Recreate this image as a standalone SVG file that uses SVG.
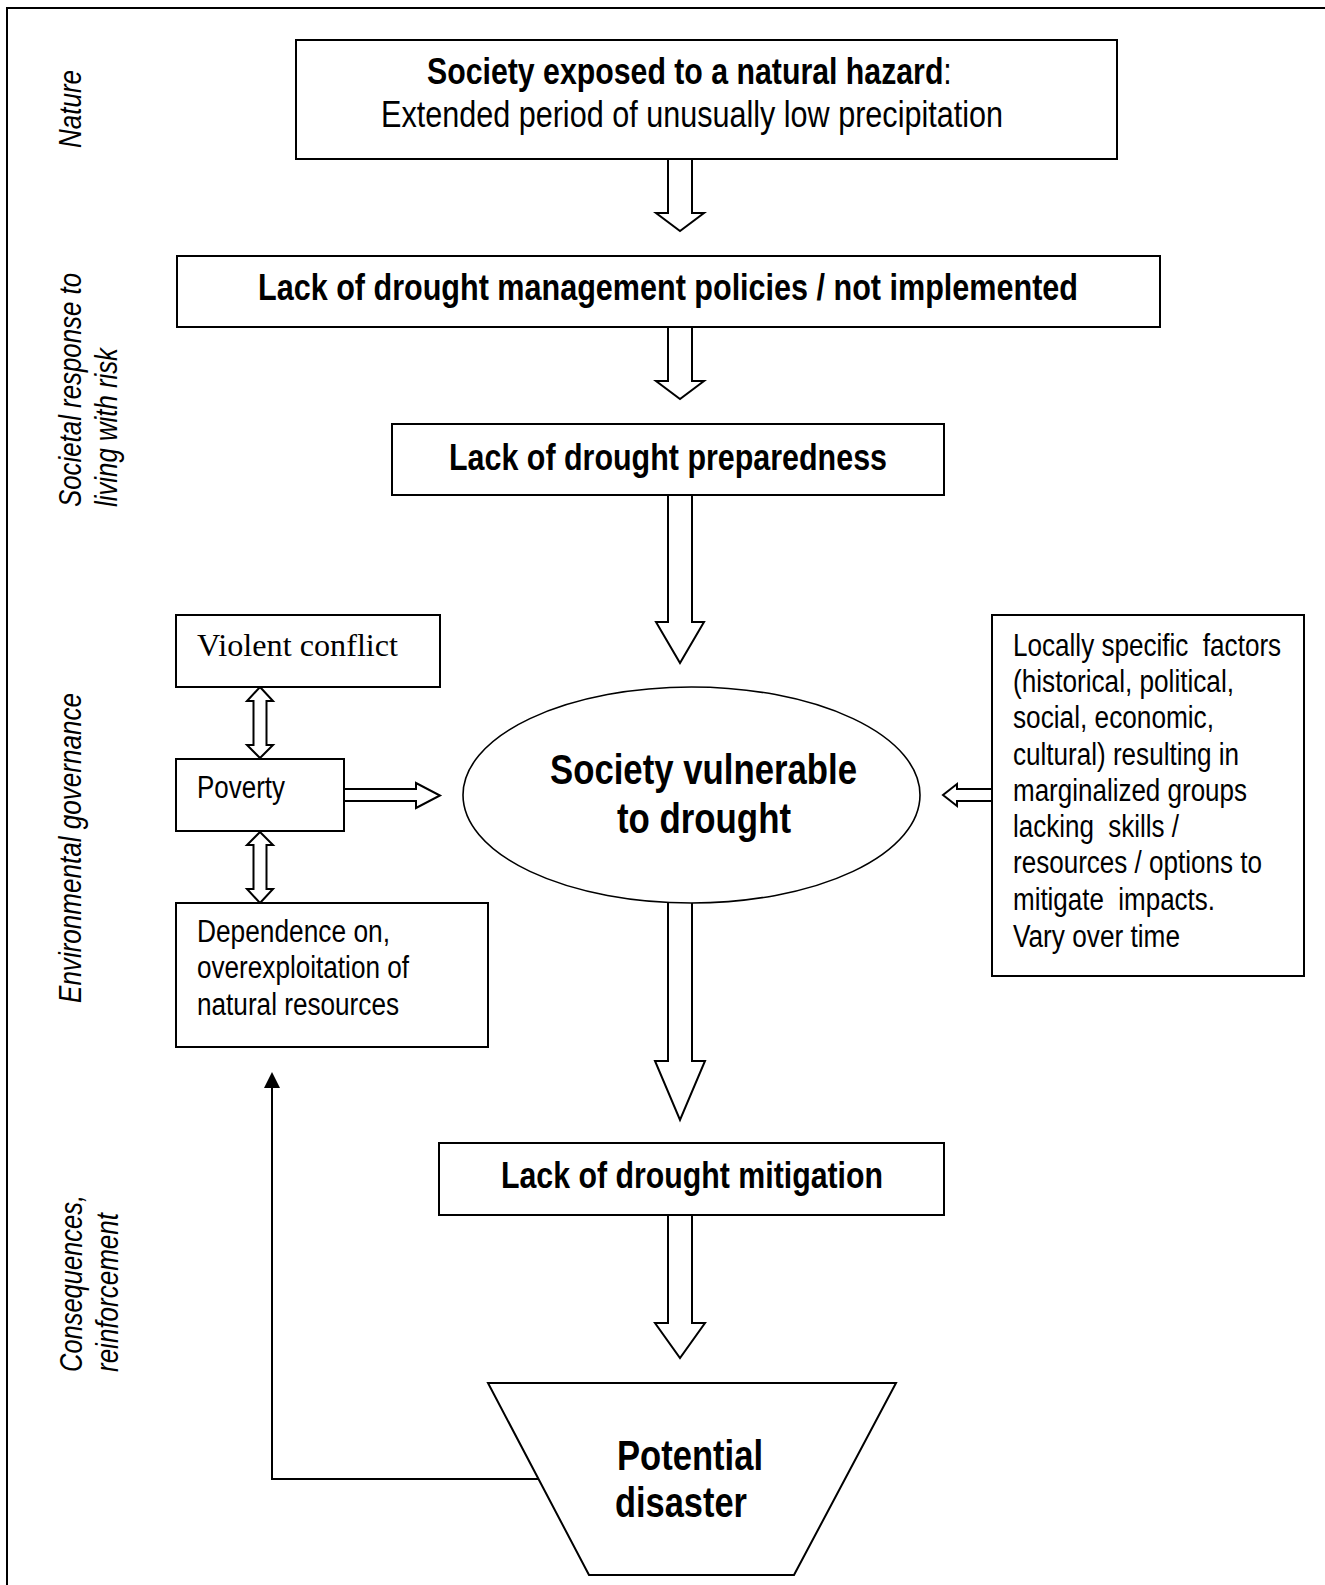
<svg xmlns="http://www.w3.org/2000/svg" width="1325" height="1585" viewBox="0 0 1325 1585">
<style>
  .box{fill:#fff;stroke:#000;stroke-width:2}
  .blk{fill:#fff;stroke:#000;stroke-width:2;stroke-linejoin:miter}
  .n{font-family:"Liberation Sans Narrow","Liberation Sans",Arial,sans-serif;fill:#000}
  .b{font-weight:bold}
  .r{font-weight:normal}
  .t37{font-size:37px}
  .t42{font-size:42px}
  .t31{font-size:31px}
  .lab{font-size:31.5px;font-style:italic}
  .serif{font-family:"Liberation Serif","Times New Roman",serif;font-size:32px;fill:#000}
</style>
<rect width="1325" height="1585" fill="#fff"/>
<path d="M7,1585 V8 H1325" fill="none" stroke="#000" stroke-width="2"/>

<g id="labels" class="n lab">
  <text transform="translate(81,148) rotate(-90)" textLength="78" lengthAdjust="spacingAndGlyphs">Nature</text>
  <text transform="translate(81,507) rotate(-90)" textLength="234" lengthAdjust="spacingAndGlyphs">Societal response to</text>
  <text transform="translate(117,507) rotate(-90)" textLength="159" lengthAdjust="spacingAndGlyphs">living with risk</text>
  <text transform="translate(81,1003) rotate(-90)" textLength="310" lengthAdjust="spacingAndGlyphs">Environmental governance</text>
  <text transform="translate(82,1372) rotate(-90)" textLength="177" lengthAdjust="spacingAndGlyphs">Consequences,</text>
  <text transform="translate(118,1372) rotate(-90)" textLength="159" lengthAdjust="spacingAndGlyphs">reinforcement</text>
</g>

<g id="connectors">
  <polygon class="blk" points="668,159 668,213 656,213 680,231 704,213 692,213 692,159"/>
  <polygon class="blk" points="668,327 668,381 656,381 680,399 704,381 692,381 692,327"/>
  <polygon class="blk" points="668,495 668,622 656,622 680,663 704,622 692,622 692,495"/>
  <polygon class="blk" points="668,895 668,1061 655,1061 680,1120 705,1061 692,1061 692,895"/>
  <polygon class="blk" points="668,1215 668,1323 655,1323 680,1358 705,1323 692,1323 692,1215"/>
  <polygon class="blk" points="260,687 273,701 266.5,701 266.5,745 273,745 260,758 247,745 253.5,745 253.5,701 247,701"/>
  <polygon class="blk" points="260,832 273,845 266.5,845 266.5,889 273,889 260,903 247,889 253.5,889 253.5,845 247,845"/>
  <polygon class="blk" points="344,789 416,789 416,783 440,795.5 416,808 416,801 344,801"/>
  <polygon class="blk" points="992,789 957,789 957,784 943,795 957,806 957,801 992,801"/>
  <polyline points="538,1479 272,1479 272,1086" fill="none" stroke="#000" stroke-width="2"/>
  <polygon points="272,1072 264,1088 280,1088" fill="#000"/>
</g>

<g id="hazard">
  <rect class="box" x="296" y="40" width="821" height="119"/>
  <text class="n t37 b" transform="translate(427,84) scale(0.82,1)" textLength="640" lengthAdjust="spacingAndGlyphs">Society exposed to a natural hazard<tspan class="r">:</tspan></text>
  <text class="n t37" x="381" y="127" textLength="622" lengthAdjust="spacingAndGlyphs">Extended period of unusually low precipitation</text>
</g>

<g id="policies">
  <rect class="box" x="177" y="256" width="983" height="71"/>
  <text class="n t37 b" x="258" y="300" textLength="820" lengthAdjust="spacingAndGlyphs">Lack of drought management policies / not implemented</text>
</g>

<g id="preparedness">
  <rect class="box" x="392" y="424" width="552" height="71"/>
  <text class="n t37 b" x="449" y="470" textLength="438" lengthAdjust="spacingAndGlyphs">Lack of drought preparedness</text>
</g>

<g id="vulnerable">
  <ellipse cx="691.5" cy="795" rx="228.5" ry="108" fill="#fff" stroke="#000" stroke-width="1.6"/>
  <text class="n t42 b" x="550" y="784" textLength="307" lengthAdjust="spacingAndGlyphs">Society vulnerable</text>
  <text class="n t42 b" x="617" y="833" textLength="174" lengthAdjust="spacingAndGlyphs">to drought</text>
</g>

<g id="violent-conflict">
  <rect class="box" x="176" y="615" width="264" height="72"/>
  <text class="serif" x="197" y="656" textLength="201" lengthAdjust="spacingAndGlyphs">Violent conflict</text>
</g>

<g id="poverty">
  <rect class="box" x="176" y="759" width="168" height="72"/>
  <text class="n t31" x="197" y="798" textLength="88" lengthAdjust="spacingAndGlyphs">Poverty</text>
</g>

<g id="dependence">
  <rect class="box" x="176" y="903" width="312" height="144"/>
  <text class="n t31" x="197" y="942" textLength="193" lengthAdjust="spacingAndGlyphs">Dependence on,</text>
  <text class="n t31" x="197" y="978" textLength="212" lengthAdjust="spacingAndGlyphs">overexploitation of</text>
  <text class="n t31" x="197" y="1015" textLength="202" lengthAdjust="spacingAndGlyphs">natural resources</text>
</g>

<g id="local-factors">
  <rect class="box" x="992" y="615" width="312" height="361"/>
  <text class="n t31" transform="translate(1013,656) scale(0.82,1)" xml:space="preserve" textLength="327" lengthAdjust="spacingAndGlyphs">Locally specific  factors</text>
  <text class="n t31" x="1013" y="692" textLength="221" lengthAdjust="spacingAndGlyphs">(historical, political,</text>
  <text class="n t31" x="1013" y="728" textLength="201" lengthAdjust="spacingAndGlyphs">social, economic,</text>
  <text class="n t31" x="1013" y="765" textLength="226" lengthAdjust="spacingAndGlyphs">cultural) resulting in</text>
  <text class="n t31" x="1013" y="801" textLength="234" lengthAdjust="spacingAndGlyphs">marginalized groups</text>
  <text class="n t31" x="1013" y="837" xml:space="preserve" textLength="166" lengthAdjust="spacingAndGlyphs">lacking  skills /</text>
  <text class="n t31" x="1013" y="873" textLength="249" lengthAdjust="spacingAndGlyphs">resources / options to</text>
  <text class="n t31" x="1013" y="910" xml:space="preserve" textLength="202" lengthAdjust="spacingAndGlyphs">mitigate  impacts.</text>
  <text class="n t31" x="1013" y="947" textLength="167" lengthAdjust="spacingAndGlyphs">Vary over time</text>
</g>

<g id="mitigation">
  <rect class="box" x="439" y="1143" width="505" height="72"/>
  <text class="n t37 b" x="501" y="1188" textLength="382" lengthAdjust="spacingAndGlyphs">Lack of drought mitigation</text>
</g>

<g id="disaster">
  <polygon class="box" points="488,1383 896,1383 794,1575 589,1575"/>
  <text class="n t42 b" x="617" y="1470" textLength="146" lengthAdjust="spacingAndGlyphs">Potential</text>
  <text class="n t42 b" x="615" y="1517" textLength="132" lengthAdjust="spacingAndGlyphs">disaster</text>
</g>
</svg>
